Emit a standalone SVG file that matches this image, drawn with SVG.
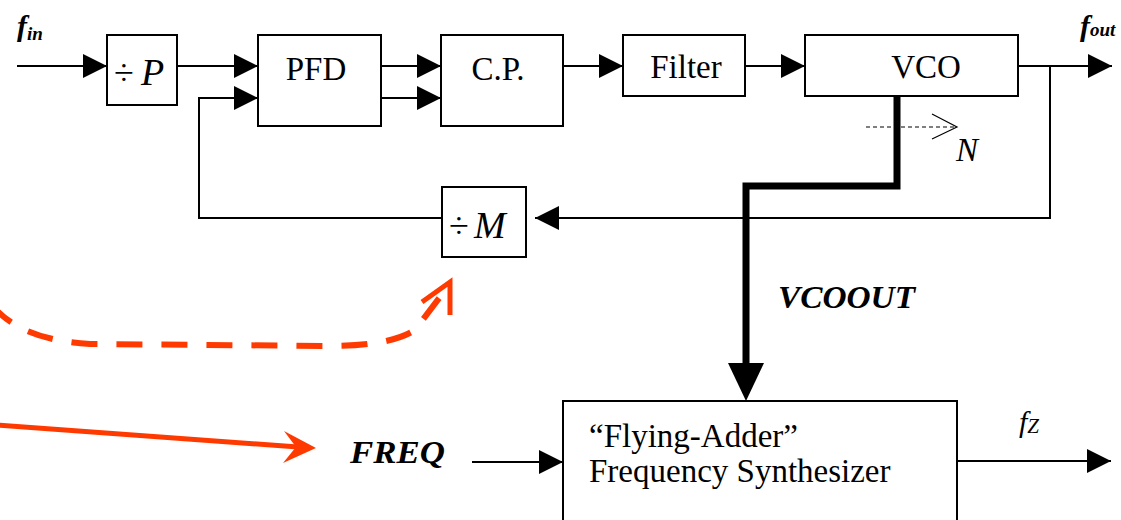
<svg xmlns="http://www.w3.org/2000/svg" width="1121" height="520" viewBox="0 0 1121 520">
<style>
.box{fill:#fff;stroke:#000;stroke-width:2}
.ln{fill:none;stroke:#000;stroke-width:2}
text{font-family:"Liberation Serif","DejaVu Serif",serif;fill:#000}
.c{text-anchor:middle}
.bi{font-weight:bold;font-style:italic}
.it{font-style:italic}
.red{fill:none;stroke:#ff3a00}
</style>
<defs>
<marker id="ah" markerUnits="userSpaceOnUse" markerWidth="26" markerHeight="26" refX="24" refY="12" orient="auto">
<path d="M0,0 L24,12 L0,24 Z" fill="#000"/>
</marker>
</defs>
<rect width="1121" height="520" fill="#fff"/>

<g id="connectors">
<line class="ln" x1="17" y1="66" x2="107" y2="66" marker-end="url(#ah)"/>
<line class="ln" x1="177" y1="66" x2="258" y2="66" marker-end="url(#ah)"/>
<line class="ln" x1="381" y1="66" x2="441" y2="66" marker-end="url(#ah)"/>
<line class="ln" x1="381" y1="98" x2="441" y2="98" marker-end="url(#ah)"/>
<line class="ln" x1="563" y1="66" x2="623" y2="66" marker-end="url(#ah)"/>
<line class="ln" x1="745" y1="66" x2="805" y2="66" marker-end="url(#ah)"/>
<line class="ln" x1="1018" y1="66" x2="1112" y2="66" marker-end="url(#ah)"/>
<polyline class="ln" points="1050,66 1050,218 535,218" marker-end="url(#ah)"/>
<polyline class="ln" points="442,218 199,218 199,98 258,98" marker-end="url(#ah)"/>
<polyline points="897,96 897,186 746,186 746,366" fill="none" stroke="#000" stroke-width="7" stroke-linejoin="miter"/>
<polygon points="728,363 764,363 746,401" fill="#000"/>
<line x1="866" y1="127" x2="956" y2="127" stroke="#000" stroke-width="1.2" stroke-dasharray="4,3"/>
<polyline points="932,114 957,127 932,139" fill="none" stroke="#000" stroke-width="1.2"/>
<line class="ln" x1="472" y1="462" x2="563" y2="462" marker-end="url(#ah)"/>
<line class="ln" x1="957" y1="461" x2="1111" y2="461" marker-end="url(#ah)"/>
<path class="red" d="M-8,305 Q20,340 90,344 L330,346 Q390,346 415,330 L440,297" stroke-width="6" stroke-dasharray="26,19"/>
<polyline class="red" points="422,302 450,282 450,315" stroke-width="5" stroke-linejoin="miter"/>
<line class="red" x1="-5" y1="425" x2="298" y2="447" stroke-width="5"/>
<polygon points="316,448 284,431 296,447 283,463" fill="#ff3a00"/>
</g>

<g id="fin"><text class="bi" x="17" y="36" font-size="30">f<tspan font-size="19" dy="4">in</tspan></text></g>
<g id="fout"><text class="bi" x="1080" y="36" font-size="30">f<tspan font-size="19">out</tspan></text></g>

<g id="divP">
<rect class="box" x="107" y="35" width="70" height="70"/>
<text x="114" y="85" font-size="36">÷<tspan class="it" x="141" font-size="38">P</tspan></text>
</g>
<g id="PFD">
<rect class="box" x="258" y="35" width="123" height="91"/>
<text class="c" x="316" y="80" font-size="33">PFD</text>
</g>
<g id="CP">
<rect class="box" x="441" y="35" width="122" height="91"/>
<text class="c" x="498" y="80" font-size="33">C.P.</text>
</g>
<g id="Filter">
<rect class="box" x="623" y="35" width="122" height="61"/>
<text class="c" x="686" y="78" font-size="33">Filter</text>
</g>
<g id="VCO">
<rect class="box" x="805" y="35" width="213" height="61"/>
<text class="c" x="926" y="78" font-size="33">VCO</text>
</g>
<g id="N"><text class="it" x="956" y="161" font-size="33">N</text></g>
<g id="divM">
<rect class="box" x="442" y="187" width="84" height="70"/>
<text x="449" y="238" font-size="36">÷<tspan class="it" x="474" font-size="38">M</tspan></text>
</g>
<g id="VCOOUT"><text class="bi" x="778" y="308" font-size="31" textLength="137" lengthAdjust="spacingAndGlyphs">VCOOUT</text></g>
<g id="FREQ"><text class="bi" x="350" y="463" font-size="31" textLength="95" lengthAdjust="spacingAndGlyphs">FREQ</text></g>
<g id="synth">
<rect class="box" x="563" y="401" width="394" height="140"/>
<text x="589" y="447" font-size="33">“Flying-Adder”</text>
<text x="589" y="482" font-size="33">Frequency Synthesizer</text>
</g>
<g id="fz"><text class="it" x="1019" y="432" font-size="30">f<tspan font-size="21" dy="1">Z</tspan></text></g>
</svg>
